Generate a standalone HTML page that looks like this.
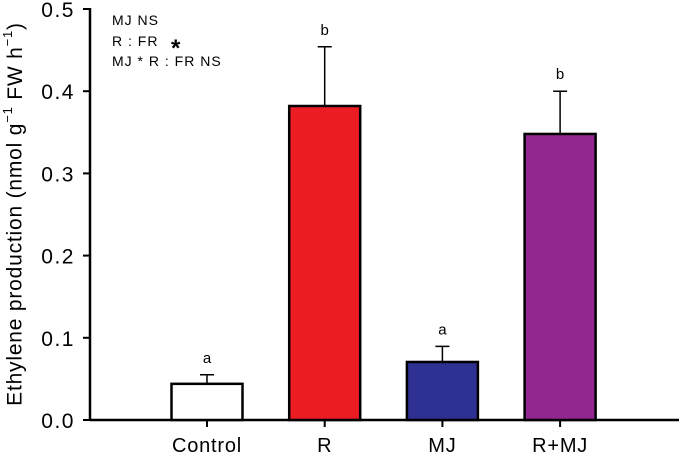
<!DOCTYPE html>
<html><head><meta charset="utf-8"><style>
html,body{margin:0;padding:0;background:#fff}
svg{display:block;font-family:"Liberation Sans",Arial,sans-serif}
</style></head><body>
<svg id="chart" width="679" height="454" viewBox="0 0 679 454">
<g id="axes"></g>
<g id="bars"></g>
<text x="15" y="214" transform="rotate(-90 15 214)" font-size="21" letter-spacing="0.8" text-anchor="middle" dominant-baseline="central">Ethylene production (nmol g<tspan dy="-8" font-size="13">−1</tspan><tspan dy="8"> FW h</tspan><tspan dy="-8" font-size="13">−1</tspan><tspan dy="8">)</tspan></text>
<g font-size="14" letter-spacing="1">
<text x="112" y="25">MJ NS</text>
<text x="112" y="46">R : FR</text>
<text x="171" y="56" font-size="24" font-weight="bold">*</text>
<text x="112" y="66">MJ * R : FR NS</text>
</g>
</svg>
<script>
const categories = ["Control","R","MJ","R+MJ"];
const values = [0.044,0.382,0.0706,0.348];
const errors = [0.011,0.072,0.019,0.052];
const letters = ["a","b","a","b"];
const colors = ["#ffffff","#ec1c24","#2e3192","#92278f"];
const yTicks = [0,0.1,0.2,0.3,0.4,0.5];
const yTickLabels = ["0.0","0.1","0.2","0.3","0.4","0.5"];

const NS="http://www.w3.org/2000/svg";
const x0=90, y0=420, yTop=9, yMax=0.5;
const y=v=>y0-(v/yMax)*(y0-yTop);
const cx=i=>207+i*117.7;
const bw=71;
function mk(tag,attrs,parent){const e=document.createElementNS(NS,tag);for(const k in attrs)e.setAttribute(k,attrs[k]);parent.appendChild(e);return e;}
const axes=document.getElementById('axes'), bars=document.getElementById('bars');
let ax=mk('line',{x1:x0,y1:y0,x2:679,y2:y0,stroke:'#000','stroke-width':2.5},axes);


let ay=mk('line',{x1:x0,y1:y0+1,x2:x0,y2:yTop-1,stroke:'#000','stroke-width':2.5},axes);


yTicks.forEach((t,i)=>{
  const l=mk('line',{x1:x0-7,y1:y(t),x2:x0,y2:y(t),stroke:'#000','stroke-width':2},axes);
  
  
  const tx=mk('text',{x:75,y:y(t)+8,'font-size':21,'letter-spacing':1.5,'text-anchor':'end'},axes);
  tx.textContent=yTickLabels[i];
  
  
});
categories.forEach((c,i)=>{
  const X=cx(i);
  const tk=mk('line',{x1:X,y1:y0,x2:X,y2:y0+7,stroke:'#000','stroke-width':2},axes);
  
  
  const lb=mk('text',{x:X,y:452,'font-size':20,'letter-spacing':0.8,'text-anchor':'middle'},axes);
  lb.textContent=c;
  
  
  const et=y(values[i]+errors[i]);
  const el=mk('path',{d:`M${X},${y(values[i])} V${et} M${X-7},${et} H${X+7}`,stroke:'#000','stroke-width':1.5,fill:'none'},bars);
  
  
  const r=mk('rect',{x:X-bw/2,y:y(values[i]),width:bw,height:y0-y(values[i]),fill:colors[i],stroke:'#000','stroke-width':2.5},bars);
  
  
  const lt=mk('text',{x:X,y:et-12,'font-size':15,'text-anchor':'middle'},bars);
  lt.textContent=letters[i];
  
  
});
</script>
</body></html>
